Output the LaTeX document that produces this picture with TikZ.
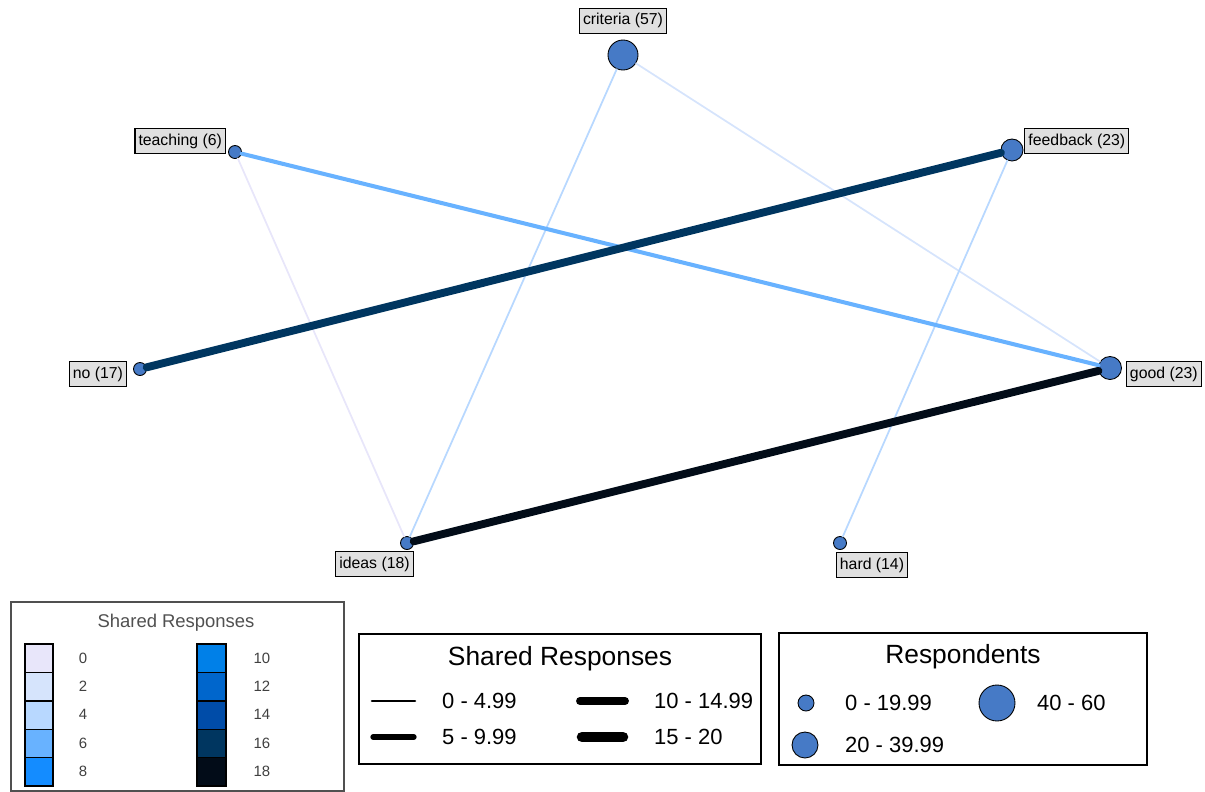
\documentclass[tikz,border=0pt]{standalone}
\usepackage{fontspec}
\setmainfont{Liberation Sans}
\usepackage{tikz}
\usetikzlibrary{positioning}
\definecolor{nodeblue}{RGB}{70,122,198}
\definecolor{lblgray}{RGB}{224,224,224}
\definecolor{keygray}{RGB}{80,80,80}
\definecolor{sr0}{RGB}{232,230,250}
\definecolor{sr2}{RGB}{214,228,252}
\definecolor{sr4}{RGB}{184,216,255}
\definecolor{sr6}{RGB}{104,178,255}
\definecolor{sr8}{RGB}{20,140,255}
\definecolor{sr10}{RGB}{0,128,232}
\definecolor{sr12}{RGB}{0,102,204}
\definecolor{sr14}{RGB}{0,76,168}
\definecolor{sr16}{RGB}{0,54,96}
\definecolor{sr18}{RGB}{2,12,24}
\tikzstyle{word} = [circle, draw=black, line width=0.5pt, fill=nodeblue, inner sep=0pt]
\tikzstyle{wordlabel} = [rectangle, draw=black, line width=0.6pt, fill=lblgray, font=\fontsize{9}{10}\selectfont, inner xsep=2pt, inner ysep=1pt, minimum height=0.5cm]
\tikzstyle{link} = [line cap=round]
\tikzstyle{keybox} = [draw=black, line width=1pt]
\tikzstyle{keytitle} = [font=\fontsize{15}{17}\selectfont]
\tikzstyle{keytext} = [font=\fontsize{12.5}{15}\selectfont, anchor=west]

\begin{document}
\begin{tikzpicture}[x=0.02cm, y=-0.02cm]
\useasboundingbox (0,0) rectangle (1205,792);

% Word nodes
\node (criteria) at (623,55) [word, minimum size=0.6cm] {};
\node (teaching) at (235,152) [word, minimum size=0.26cm] {};
\node (feedback) at (1012,150) [word, minimum size=0.44cm] {};
\node (no) at (140,369) [word, minimum size=0.26cm] {};
\node (good) at (1110,368) [word, minimum size=0.46cm] {};
\node (ideas) at (407,543) [word, minimum size=0.26cm] {};
\node (hard) at (840,543) [word, minimum size=0.26cm] {};

% Shared responses
\draw[link, draw=sr0, line width=1pt] (teaching) -- (ideas);
\draw[link, draw=sr4, line width=1pt] (criteria) -- (ideas);
\draw[link, draw=sr2, line width=1pt] (criteria) -- (good);
\draw[link, draw=sr4, line width=1pt] (feedback) -- (hard);
\draw[link, draw=sr6, line width=2.3pt] (teaching) -- (good);
\draw[link, draw=sr16, line width=4.5pt] (feedback) -- (no);
\draw[link, draw=sr18, line width=4.5pt] (good) -- (ideas);

% Labels
\node (criterialbl) [wordlabel, above=0.12cm of criteria] {criteria (57)};
\node (teachinglbl) [wordlabel, left=0.04cm of teaching, yshift=0.22cm] {teaching (6)};
\node (feedbacklbl) [wordlabel, right=0.02cm of feedback, yshift=0.18cm] {feedback (23)};
\node (nolbl) [wordlabel, left=0.12cm of no, yshift=-0.1cm] {no (17)};
\node (goodlbl) [wordlabel, right=0.08cm of good, yshift=-0.12cm] {good (23)};
\node (ideaslbl) [wordlabel, below=0.02cm of ideas, xshift=-0.65cm] {ideas (18)};
\node (hardlbl) [wordlabel, below=0.04cm of hard, xshift=0.64cm] {hard (14)};

% Colour key
\draw[keybox, draw=keygray] (11,602) rectangle (344,791);
\node (colourtitle) at (176,623) [font=\fontsize{10.5}{12}\selectfont, text=keygray] {Shared Responses};
\foreach \c/\v [count=\i from 0] in {sr0/0,sr2/2,sr4/4,sr6/6,sr8/8} {
  \draw[fill=\c, line width=0.8pt] (25,644+28.4*\i) rectangle (53,672.4+28.4*\i);
  \node (lowkey\v) at (83,658+28.4*\i) [font=\fontsize{8.5}{9}\selectfont, text=black!75] {\v};
}
\foreach \c/\v [count=\i from 0] in {sr10/10,sr12/12,sr14/14,sr16/16,sr18/18} {
  \draw[fill=\c, line width=0.8pt] (197,644+28.4*\i) rectangle (226,672.4+28.4*\i);
  \node (highkey\v) at (262,658+28.4*\i) [font=\fontsize{8.5}{9}\selectfont, text=black!75] {\v};
}

% Width key
\draw[keybox] (359,634) rectangle (761,764);
\node (widthtitle) at (560,659) [keytitle] {Shared Responses};
\draw[link, line width=1.5pt] (372,701) -- (415,701);
\node (width1) at (436,701) [keytext] {0 - 4.99};
\draw[link, line width=3pt] (373,737) -- (414,737);
\node (width2) at (436,737) [keytext] {5 - 9.99};
\draw[link, line width=4.5pt] (580,701) -- (625,701);
\node (width3) at (648,701) [keytext] {10 - 14.99};
\draw[link, line width=6pt] (582,737) -- (623,737);
\node (width4) at (648,737) [keytext] {15 - 20};

% Size key
\draw[keybox] (779,633) rectangle (1147,765);
\node (sizetitle) at (963,657) [keytitle] {Respondents};
\node (size1) at (806,703) [word, minimum size=0.32cm] {};
\node (size1lbl) at (839,703) [keytext] {0 - 19.99};
\node (size3) at (997,703) [word, minimum size=0.72cm] {};
\node (size3lbl) at (1031,703) [keytext] {40 - 60};
\node (size2) at (805,745) [word, minimum size=0.52cm] {};
\node (size2lbl) at (839,745) [keytext] {20 - 39.99};
\end{tikzpicture}
\end{document}
